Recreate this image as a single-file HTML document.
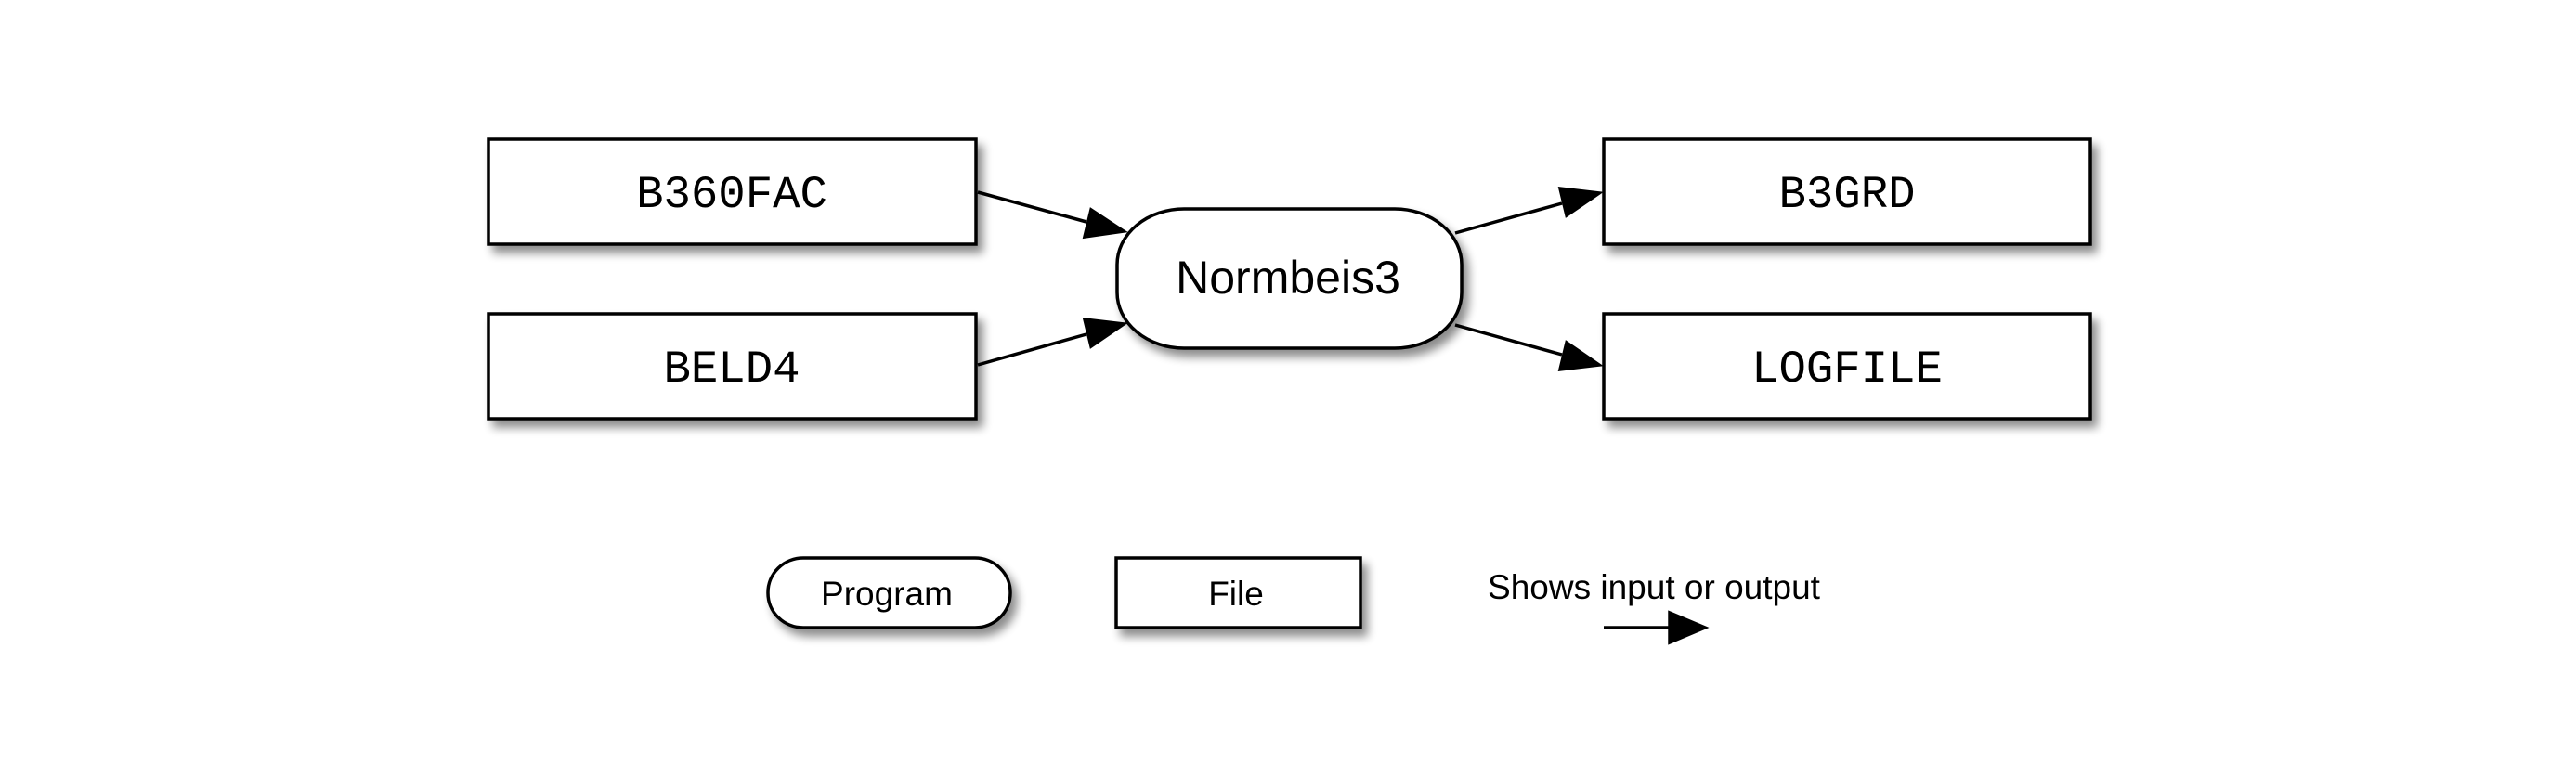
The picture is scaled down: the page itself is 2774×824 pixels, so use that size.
<!DOCTYPE html>
<html><head><meta charset="utf-8"><style>
html,body{margin:0;padding:0;background:#fff;}
svg{display:block}
</style></head><body>
<svg width="2774" height="824" viewBox="0 0 2774 824" xmlns="http://www.w3.org/2000/svg">
<defs>
<filter id="sh" x="-10%" y="-20%" width="130%" height="150%">
<feGaussianBlur in="SourceAlpha" stdDeviation="5"/>
<feOffset dx="6" dy="8" result="b"/>
<feComponentTransfer><feFuncA type="linear" slope="0.45"/></feComponentTransfer>
<feMerge><feMergeNode/><feMergeNode in="SourceGraphic"/></feMerge>
</filter>
</defs>
<g stroke="#000" stroke-width="3.5" fill="#fff" filter="url(#sh)">
<rect x="526" y="150" width="525" height="113"/>
<rect x="526" y="338" width="525" height="113"/>
<rect x="1727" y="150" width="524" height="113"/>
<rect x="1727" y="338" width="524" height="113"/>
<rect x="1203" y="225" width="371" height="150" rx="72" ry="60"/>
<rect x="827" y="601" width="261" height="75" rx="38" ry="37"/>
<rect x="1202" y="601" width="263" height="75"/>
</g>
<g stroke="#000" stroke-width="3.5" fill="#000">
<line x1="1053" y1="207" x2="1170" y2="239"/>
<path d="M1210,249 L1168,255 L1175,226 z"/>
<line x1="1053" y1="393" x2="1170" y2="360"/>
<path d="M1210,349 L1175,373 L1168,344 z"/>
<line x1="1567" y1="251" x2="1682" y2="219"/>
<path d="M1722,208 L1687,232 L1680,203 z"/>
<line x1="1567" y1="350" x2="1682" y2="382"/>
<path d="M1722,393 L1680,398 L1687,369 z"/>
<line x1="1727" y1="676" x2="1800" y2="676"/>
<path d="M1836,676 L1798,660 L1798,692 z"/>
</g>
<g font-family="'Liberation Mono', monospace" font-size="49" text-anchor="middle" fill="#000">
<text x="788" y="223">B360FAC</text>
<text x="788" y="411">BELD4</text>
<text x="1989" y="223">B3GRD</text>
<text x="1989" y="411">LOGFILE</text>
</g>
<g font-family="'Liberation Sans', sans-serif" text-anchor="middle" fill="#000">
<text x="1387" y="316" font-size="50">Normbeis3</text>
<text x="955" y="652" font-size="37">Program</text>
<text x="1331" y="652" font-size="37">File</text>
<text x="1781" y="645" font-size="37">Shows input or output</text>
</g>
</svg>
</body></html>
